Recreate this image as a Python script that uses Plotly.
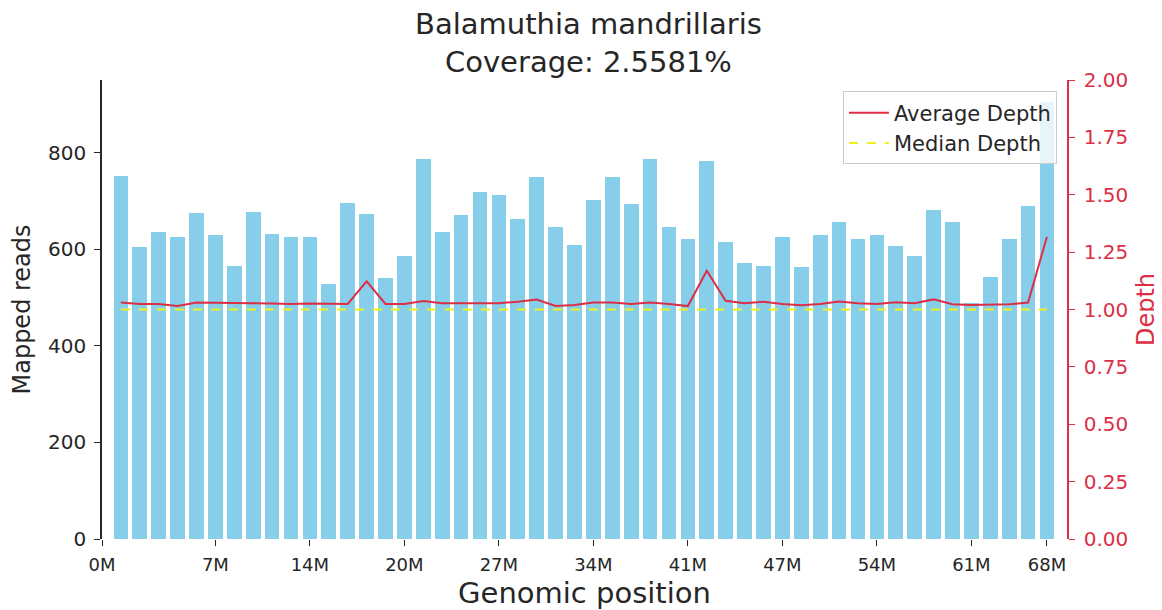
import plotly.graph_objects as go

# ---- data ----
bin_index = list(range(50))
mapped_reads = [753, 606, 637, 625, 675, 629, 566, 678, 631, 625,
                625, 528, 697, 673, 540, 587, 788, 637, 672, 718,
                713, 663, 750, 647, 609, 703, 750, 694, 788, 647,
                622, 784, 616, 572, 566, 625, 563, 629, 656, 622,
                629, 607, 587, 681, 656, 488, 543, 622, 690, 906]
average_depth = [1.030, 1.024, 1.024, 1.015, 1.030, 1.030, 1.027, 1.027, 1.026, 1.024,
                 1.026, 1.026, 1.024, 1.123, 1.024, 1.024, 1.037, 1.027, 1.027, 1.030,
                 1.027, 1.034, 1.043, 1.015, 1.020, 1.030, 1.030, 1.024, 1.030, 1.024,
                 1.015, 1.169, 1.038, 1.027, 1.034, 1.024, 1.018, 1.024, 1.035, 1.027,
                 1.024, 1.032, 1.027, 1.044, 1.023, 1.020, 1.020, 1.023, 1.030, 1.317]
median_depth = 1.0
tick_positions = [-1, 5, 10, 15, 20, 25, 30, 35, 40, 45, 49]
tick_labels = ["0M", "7M", "14M", "20M", "27M", "34M", "41M", "47M", "54M", "61M", "68M"]
left_ticks = [0, 200, 400, 600, 800]
right_ticks = [0, 0.25, 0.5, 0.75, 1.0, 1.25, 1.5, 1.75, 2.0]

RED = "#dc2f45"
FONT = "DejaVu Sans"
TXT = "#262626"

fig = go.Figure()
fig.add_trace(go.Bar(x=bin_index, y=mapped_reads, marker=dict(color="#87CEEB", line=dict(width=0)),
                     width=0.78, showlegend=False, yaxis="y"))
fig.add_trace(go.Scatter(x=bin_index, y=average_depth, mode="lines", name="Average Depth",
                         line=dict(color=RED, width=2), yaxis="y2"))
fig.add_trace(go.Scatter(x=bin_index, y=[median_depth] * len(bin_index), mode="lines",
                         name="Median Depth", line=dict(color="#eef020", width=2, dash="dash"),
                         yaxis="y2"))

fig.update_layout(
    width=1154, height=602,
    margin=dict(l=94, r=95, t=72, b=71),
    paper_bgcolor="white", plot_bgcolor="white",
    font=dict(family=FONT, color=TXT),
    bargap=0,
    title=dict(text="Balamuthia mandrillaris<br>Coverage: 2.5581%", x=0.503, xanchor="center",
               y=0.957, yanchor="middle", yref="container",
               font=dict(size=29, family=FONT, color=TXT)),
    xaxis=dict(range=[-1, 50.06], tickmode="array", tickvals=tick_positions, ticktext=tick_labels,
               showline=False, showgrid=False, zeroline=False, ticks="outside", ticklen=6,
               tickcolor=TXT, tickfont=dict(size=18, color=TXT), ticklabelstandoff=3,
               title=dict(text="Genomic position", font=dict(size=29, color=TXT), standoff=12),
               automargin=False),
    yaxis=dict(range=[0, 951], tickmode="array", tickvals=left_ticks,
               showline=True, linecolor=TXT, linewidth=1.5, showgrid=False, zeroline=False,
               ticks="outside", ticklen=6, tickcolor=TXT, tickfont=dict(size=20, color=TXT),
               ticklabelstandoff=4,
               title=dict(text="Mapped reads", font=dict(size=24, color=TXT), standoff=14),
               automargin=False),
    yaxis2=dict(range=[0, 2], overlaying="y", side="right", tickmode="array", tickvals=right_ticks,
                tickformat=".2f", showline=True, linecolor=RED, linewidth=1.5, showgrid=False,
                zeroline=False, ticks="outside", ticklen=6, tickcolor=RED,
                tickfont=dict(size=20, color=RED), ticklabelstandoff=5,
                title=dict(text="Depth", font=dict(size=24, color=RED), standoff=10),
                automargin=False),
    legend=dict(x=0.9896, xanchor="right", y=0.975, yanchor="top",
                bgcolor="rgba(255,255,255,0.8)", bordercolor="#cccccc", borderwidth=1,
                font=dict(size=21, color=TXT), itemwidth=40, tracegroupgap=0),
)

fig.write_html("out.html")
